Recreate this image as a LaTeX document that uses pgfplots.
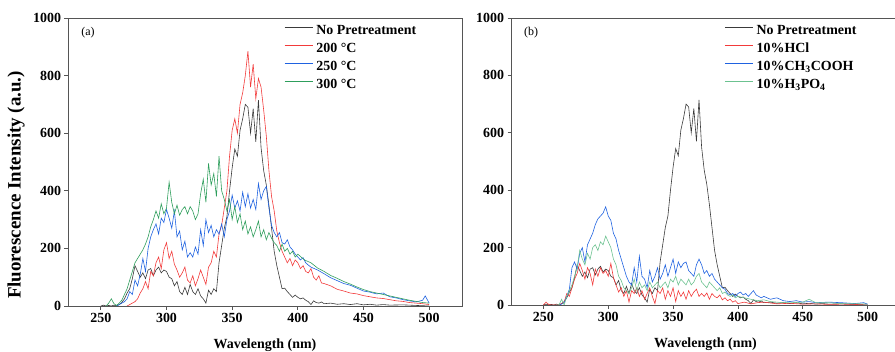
\documentclass[border=0pt]{standalone}
\usepackage{pgfplots}
\pgfplotsset{compat=1.18}
\usepackage{pgfplotstable}
\usepackage{fontspec}
\setmainfont{Liberation Serif}
\definecolor{cblk}{HTML}{3A3A3A}
\definecolor{cred}{HTML}{F23A3A}
\definecolor{cblu}{HTML}{1F62E0}
\definecolor{cgrn}{HTML}{2E9E5C}
\definecolor{cgrl}{HTML}{6CC290}
\definecolor{cax}{HTML}{555555}

\pgfplotstableread{
x y
250 0
252 3
254 0
256 2
258 0
260 3
262 0
264 5
266 12
268 25
270 45
272 60
274 95
276 140
278 120
280 100
282 115
284 95
286 125
288 130
290 105
292 125
294 135
296 115
298 125
300 120
302 100
304 95
306 70
308 85
310 50
312 40
314 65
316 40
318 75
320 50
322 40
324 60
326 35
328 25
330 10
332 55
334 40
336 60
338 50
340 150
342 210
344 270
346 310
348 400
350 480
352 545
354 520
356 610
358 650
360 700
362 690
364 600
366 685
368 570
370 715
372 550
374 470
376 420
378 350
380 270
382 190
384 140
386 100
388 60
390 62
392 50
394 40
396 30
398 38
400 30
402 25
404 28
406 20
408 15
410 5
412 18
414 12
416 10
418 14
420 8
425 10
430 6
435 8
440 5
445 8
450 4
455 6
460 3
465 5
470 3
480 4
490 2
500 0
}\tnp

\pgfplotstableread{
x y
270 0
272 5
274 10
276 15
278 25
280 45
282 60
284 85
286 60
288 120
290 105
292 150
294 170
296 130
298 195
300 220
302 165
304 190
306 145
308 125
310 100
312 115
314 135
316 90
318 80
320 105
322 70
324 95
326 125
328 100
330 75
332 135
334 150
336 190
338 170
340 250
342 280
344 340
346 400
348 520
350 610
352 650
354 600
356 700
358 740
360 800
362 885
364 760
366 840
368 720
370 790
372 760
374 680
376 590
378 470
380 380
382 330
384 260
386 220
388 190
390 170
392 150
394 165
396 140
398 160
400 150
402 130
404 140
406 120
408 115
410 130
412 100
414 90
416 105
418 80
420 78
425 70
430 58
435 52
440 45
445 42
450 36
455 32
460 28
465 26
470 22
475 18
480 16
485 12
490 10
495 8
500 5
}\tra

\pgfplotstableread{
x y
262 0
264 5
266 10
268 15
270 25
272 50
274 40
276 90
278 70
280 110
282 165
284 120
286 200
288 240
290 265
292 285
294 250
296 305
298 290
300 335
302 305
304 270
306 330
308 240
310 260
312 195
314 225
316 170
318 185
320 170
322 205
324 180
326 265
328 210
330 300
332 255
334 280
336 240
338 265
340 250
342 285
344 240
346 300
348 330
350 385
352 340
354 365
356 330
358 395
360 345
362 390
364 340
366 370
368 335
370 425
372 370
374 400
376 415
378 340
380 280
382 255
384 240
386 255
388 220
390 215
392 230
394 205
396 195
398 180
400 170
402 160
404 168
406 150
408 142
410 135
415 125
420 112
425 98
430 88
435 78
440 72
445 62
450 52
455 48
460 42
465 45
470 32
475 28
480 22
485 18
490 14
495 20
497 35
500 10
}\tba

\pgfplotstableread{
x y
254 0
256 10
258 25
260 8
262 2
264 10
266 20
268 40
270 60
272 90
274 120
276 150
278 165
280 180
282 195
284 215
286 240
288 275
290 300
292 330
294 305
296 355
298 320
300 340
302 430
304 360
306 320
308 350
310 315
312 335
314 345
316 320
318 345
320 330
322 300
324 320
326 390
328 440
330 360
332 495
334 420
336 460
338 380
340 520
342 400
344 370
346 330
348 370
350 300
352 345
354 290
356 320
358 265
360 295
362 250
364 275
366 240
368 265
370 295
372 240
374 265
376 230
378 255
380 235
382 220
384 210
386 190
388 215
390 190
392 200
394 180
396 190
398 170
400 180
405 160
410 150
415 132
420 120
425 106
430 96
435 85
440 76
445 66
450 57
455 50
460 45
465 40
470 35
475 30
480 25
485 20
490 16
495 12
500 10
}\tga

\pgfplotstableread{
x y
250 0
252 10
254 2
256 0
262 0
264 5
266 10
268 40
270 30
272 60
274 90
276 110
278 145
280 120
282 90
284 130
286 110
288 70
290 125
292 100
294 130
296 110
298 120
300 100
302 145
304 95
306 70
308 45
310 60
312 30
314 50
316 10
318 50
320 40
322 60
324 30
326 50
328 20
330 40
332 60
334 30
336 5
338 50
340 40
342 60
344 20
346 50
348 30
350 60
352 12
354 50
356 30
358 45
360 20
362 50
364 30
366 45
368 55
370 30
372 40
374 30
376 42
378 20
380 40
382 30
384 25
386 35
388 18
390 25
392 15
394 20
396 10
398 15
400 5
405 10
410 4
415 8
420 10
430 4
440 6
450 3
460 4
470 2
480 3
490 2
500 0
}\trb

\pgfplotstableread{
x y
262 0
264 3
266 8
268 30
270 55
272 130
274 150
276 125
278 180
280 200
282 150
284 210
286 230
288 250
290 280
292 300
294 310
296 320
298 342
300 310
302 295
304 250
306 230
308 190
310 160
312 130
314 100
316 80
318 70
320 130
322 80
324 170
326 100
328 90
330 60
332 120
334 80
336 100
338 130
340 90
342 110
344 140
346 100
348 130
350 160
352 110
354 150
356 130
358 145
360 150
362 120
364 110
366 100
368 140
370 160
372 140
374 110
376 120
378 100
380 110
382 90
384 80
386 70
388 60
390 55
392 40
394 35
396 40
398 30
400 40
402 45
404 35
406 40
408 30
410 40
412 50
414 35
416 30
418 25
420 30
425 20
430 25
435 15
440 12
445 15
450 10
455 12
460 8
470 10
480 8
490 5
497 8
500 3
}\tbb

\pgfplotstableread{
x y
260 0
262 0
264 20
266 0
268 30
270 50
272 70
274 100
276 130
278 190
280 160
282 140
284 180
286 160
288 200
290 210
292 190
294 220
296 210
298 240
300 220
302 200
304 160
306 140
308 100
310 85
312 60
314 50
316 40
318 60
320 90
322 50
324 80
326 60
328 70
330 50
332 80
334 60
336 70
338 80
340 60
342 70
344 80
346 60
348 90
350 80
352 100
354 70
356 90
358 80
360 70
362 90
364 70
366 80
368 100
370 110
372 80
374 70
376 60
378 80
380 70
382 60
384 50
386 60
388 40
390 45
392 35
394 30
396 35
398 25
400 30
405 25
410 20
415 15
420 18
425 12
430 10
435 8
440 10
445 8
450 10
455 20
460 8
470 8
480 5
490 5
500 3
}\tgb

\pgfplotsset{
  legend image code/.code={\draw[#1, draw opacity=1, line width=0.8pt] (0bp,0.3em) -- (28bp,0.3em);},
  myaxis/.style={
    scale only axis, anchor=south west,
    xmin=225, xmax=525, ymin=0, ymax=1000,
    xtick={250,300,...,500}, ytick={0,200,...,1000},
    axis line style={draw=cax, line width=0.9pt},
    tick style={draw=cax, line width=0.8pt},
    tick align=outside, xtick pos=bottom, ytick pos=left,
    major tick length=3.5bp,
    ticklabel style={font=\bfseries\fontsize{14}{14}\selectfont},
    /pgf/number format/assume math mode=true,
    /pgf/number format/1000 sep={},
    xlabel={Wavelength (nm)},
    xlabel style={at={(axis description cs:0.5,-0.135)}, anchor=center, font=\bfseries\fontsize{14}{16}\selectfont},
    legend cell align=left,
    legend style={fill=none, draw opacity=0, inner sep=0pt, row sep=2bp,
      nodes={inner sep=1.5bp, text height=10bp, text depth=3bp, font=\bfseries\fontsize{14}{14}\selectfont},
      /tikz/every odd column/.append style={column sep=2bp}},
    every axis plot/.append style={line width=0.6pt},
  }
}

\begin{document}
\begin{tikzpicture}
\useasboundingbox (0,0) rectangle (895bp,352bp);
\begin{axis}[myaxis, at={(68bp,46bp)}, width=394bp, height=288bp,
  ylabel={Fluorescence Intensity (a.u.)},
  ylabel style={at={(axis description cs:-0.132,0.42)}, anchor=center, font=\bfseries\fontsize{19}{21}\selectfont},
  legend style={at={(rel axis cs:0.548,0.985)}, anchor=north west}]
\addplot[draw=cblk] table[x=x,y=y]{\tnp};
\addplot[draw=cred] table[x=x,y=y]{\tra};
\addplot[draw=cblu] table[x=x,y=y]{\tba};
\addplot[draw=cgrn] table[x=x,y=y]{\tga};
\legend{No Pretreatment, 200 °C, 250 °C, 300 °C}
\node[anchor=west, font=\fontsize{12}{12}\selectfont] at (rel axis cs:0.025,0.948) {(a)};
\end{axis}
\begin{axis}[myaxis, at={(511bp,47bp)}, width=389bp, height=287bp,
  legend style={at={(rel axis cs:0.548,0.985)}, anchor=north west}]
\addplot[draw=cblk] table[x=x,y=y]{\tnp};
\addplot[draw=cred] table[x=x,y=y]{\trb};
\addplot[draw=cblu] table[x=x,y=y]{\tbb};
\addplot[draw=cgrl] table[x=x,y=y]{\tgb};
\legend{No Pretreatment, 10\%HCl, 10\%CH\textsubscript{3}COOH, 10\%H\textsubscript{3}PO\textsubscript{4}}
\node[anchor=west, font=\fontsize{12}{12}\selectfont] at (rel axis cs:0.025,0.948) {(b)};
\end{axis}
\end{tikzpicture}
\end{document}
